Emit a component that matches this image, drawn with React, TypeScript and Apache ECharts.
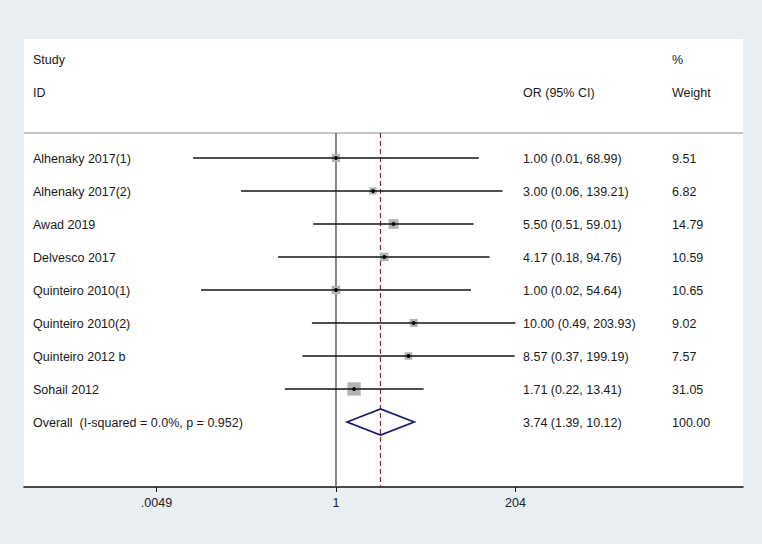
import React, { useEffect, useRef } from 'react';
import * as echarts from 'echarts';

// ---- data ----
const studies = [
  'Alhenaky 2017(1)',
  'Alhenaky 2017(2)',
  'Awad 2019',
  'Delvesco 2017',
  'Quinteiro 2010(1)',
  'Quinteiro 2010(2)',
  'Quinteiro 2012 b',
  'Sohail 2012',
];
const orValues = [1.0, 3.0, 5.5, 4.17, 1.0, 10.0, 8.57, 1.71];
const ciLower = [0.0145, 0.06, 0.51, 0.18, 0.0183, 0.49, 0.37, 0.22];
const ciUpper = [68.99, 139.21, 59.01, 94.76, 54.64, 203.93, 199.19, 13.41];
const weights = [9.51, 6.82, 14.79, 10.59, 10.65, 9.02, 7.57, 31.05];

const overallLabel = 'Overall  (I-squared = 0.0%, p = 0.952)';
const overallOR = 3.74;
const overallLower = 1.39;
const overallUpper = 10.12;
const overallWeight = 100.0;

const headerTop = ['Study', '', '%'];
const headerBottom = ['ID', 'OR (95% CI)', 'Weight'];

const tickValues = [0.0049, 1, 204];
const tickLabels = ['.0049', '1', '204'];

// ---- layout constants ----
const X_MIN = -4.015;
const X_MAX = 5.238;
const Y_MIN = -3.606;
const Y_MAX = 9.97;
const HEADER_ROWS = [-3, -2];
const SEPARATOR_ROW = -0.76;
const COL_X = [33, 523, 672];
const FONT_FAMILY = '"Liberation Sans", Arial, Helvetica, sans-serif';
const FONT_SIZE = 12.5;
const TEXT_COLOR = '#1a1a1a';

const fmt = (v: number) => v.toFixed(2);

export default function App() {
  const ref = useRef<HTMLDivElement>(null);

  useEffect(() => {
    if (!ref.current) return;
    const chart = echarts.init(ref.current, undefined, { renderer: 'svg' });

    const studyData = studies.map((_, i) => [
      Math.log10(ciLower[i]),
      Math.log10(ciUpper[i]),
      Math.log10(orValues[i]),
      i,
      weights[i],
    ]);
    const overallRow = studies.length;

    const tableRows: { row: number; cells: string[] }[] = [
      { row: HEADER_ROWS[0], cells: headerTop },
      { row: HEADER_ROWS[1], cells: headerBottom },
      ...studies.map((s, i) => ({
        row: i,
        cells: [s, `${fmt(orValues[i])} (${fmt(ciLower[i])}, ${fmt(ciUpper[i])})`, fmt(weights[i])],
      })),
      {
        row: overallRow,
        cells: [overallLabel, `${fmt(overallOR)} (${fmt(overallLower)}, ${fmt(overallUpper)})`, fmt(overallWeight)],
      },
    ];

    const tickLog = tickValues.map((v) => Math.log10(v));
    const labelFor = (v: number) => {
      for (let k = 0; k < tickLog.length; k++) {
        if (Math.abs(tickLog[k] - v) < 1e-6) return tickLabels[k];
      }
      return '';
    };

    const option: any = {
      animation: false,
      backgroundColor: '#e9eef2',
      grid: {
        left: 24,
        right: 19,
        top: 39,
        bottom: 57,
        show: true,
        backgroundColor: '#ffffff',
        borderWidth: 0,
      },
      xAxis: {
        type: 'value',
        min: X_MIN,
        max: X_MAX,
        splitLine: { show: false },
        axisLine: { show: true, onZero: false, lineStyle: { color: '#111', width: 1.6 } },
        axisTick: {
          show: true,
          length: 5,
          customValues: tickLog,
          lineStyle: { color: '#111', width: 1 },
        },
        axisLabel: {
          customValues: tickLog,
          formatter: (v: number) => labelFor(v),
          color: '#222',
          fontFamily: FONT_FAMILY,
          fontSize: FONT_SIZE,
          margin: 9,
        },
      },
      yAxis: {
        type: 'value',
        inverse: true,
        min: Y_MIN,
        max: Y_MAX,
        show: false,
      },
      series: [
        // header separator
        {
          type: 'custom',
          silent: true,
          clip: false,
          data: [[0, SEPARATOR_ROW]],
          encode: { x: 0, y: 1 },
          renderItem: (params: any, api: any) => {
            const cs = params.coordSys;
            const p = api.coord([0, api.value(1)]);
            return {
              type: 'line',
              shape: { x1: cs.x, y1: p[1], x2: cs.x + cs.width, y2: p[1] },
              style: { stroke: '#c6c6c6', lineWidth: 2 },
            };
          },
        },
        // null line (OR = 1) and overall effect line
        {
          type: 'custom',
          silent: true,
          data: [[0, SEPARATOR_ROW], [Math.log10(overallOR), SEPARATOR_ROW]],
          encode: { x: 0, y: 1 },
          renderItem: (params: any, api: any) => {
            const cs = params.coordSys;
            const p = api.coord([api.value(0), api.value(1)]);
            const dashed = params.dataIndex === 1;
            return {
              type: 'line',
              shape: { x1: p[0], y1: p[1], x2: p[0], y2: cs.y + cs.height },
              style: dashed
                ? { stroke: '#8f2030', lineWidth: 1.2, lineDash: [5, 3] }
                : { stroke: '#6a6a6a', lineWidth: 1.6 },
            };
          },
        },
        // study boxes + CIs
        {
          type: 'custom',
          silent: true,
          data: studyData,
          encode: { x: [0, 1, 2], y: 3 },
          renderItem: (params: any, api: any) => {
            const lo = api.coord([api.value(0), api.value(3)]);
            const hi = api.coord([api.value(1), api.value(3)]);
            const pt = api.coord([api.value(2), api.value(3)]);
            const side = 2 + 2.03 * Math.sqrt(api.value(4));
            return {
              type: 'group',
              children: [
                {
                  type: 'rect',
                  shape: { x: pt[0] - side / 2, y: pt[1] - side / 2, width: side, height: side },
                  style: { fill: '#b3b3b3' },
                },
                {
                  type: 'line',
                  shape: { x1: lo[0], y1: lo[1], x2: hi[0], y2: hi[1] },
                  style: { stroke: '#151515', lineWidth: 1.6 },
                },
                {
                  type: 'circle',
                  shape: { cx: pt[0], cy: pt[1], r: 1.9 },
                  style: { fill: '#000' },
                },
              ],
            };
          },
        },
        // overall diamond
        {
          type: 'custom',
          silent: true,
          data: [[Math.log10(overallLower), Math.log10(overallUpper), Math.log10(overallOR), overallRow]],
          encode: { x: [0, 1, 2], y: 3 },
          renderItem: (params: any, api: any) => {
            const lo = api.coord([api.value(0), api.value(3)]);
            const hi = api.coord([api.value(1), api.value(3)]);
            const pt = api.coord([api.value(2), api.value(3)]);
            const h = 13;
            return {
              type: 'polygon',
              shape: {
                points: [
                  [lo[0], lo[1]],
                  [pt[0], pt[1] - h],
                  [hi[0], hi[1]],
                  [pt[0], pt[1] + h],
                ],
              },
              style: { fill: 'none', stroke: '#1c1c6a', lineWidth: 1.8 },
            };
          },
        },
        // table text
        {
          type: 'custom',
          silent: true,
          data: tableRows.map((r) => [0, r.row]),
          encode: { x: 0, y: 1 },
          renderItem: (params: any, api: any) => {
            const p = api.coord([0, api.value(1)]);
            const cells = tableRows[params.dataIndex].cells;
            return {
              type: 'group',
              children: cells
                .map((t, k) => ({
                  type: 'text',
                  x: COL_X[k],
                  y: p[1] + 1,
                  style: {
                    text: t,
                    fill: TEXT_COLOR,
                    fontFamily: FONT_FAMILY,
                    fontSize: FONT_SIZE,
                    align: 'left',
                    verticalAlign: 'middle',
                  },
                }))
                .filter((e) => e.style.text !== ''),
            };
          },
        },
      ],
    };

    chart.setOption(option);
    return () => chart.dispose();
  }, []);

  return (
    <div
      ref={ref}
      style={{ position: 'fixed', left: 0, top: 0, width: 762, height: 544 }}
    />
  );
}
